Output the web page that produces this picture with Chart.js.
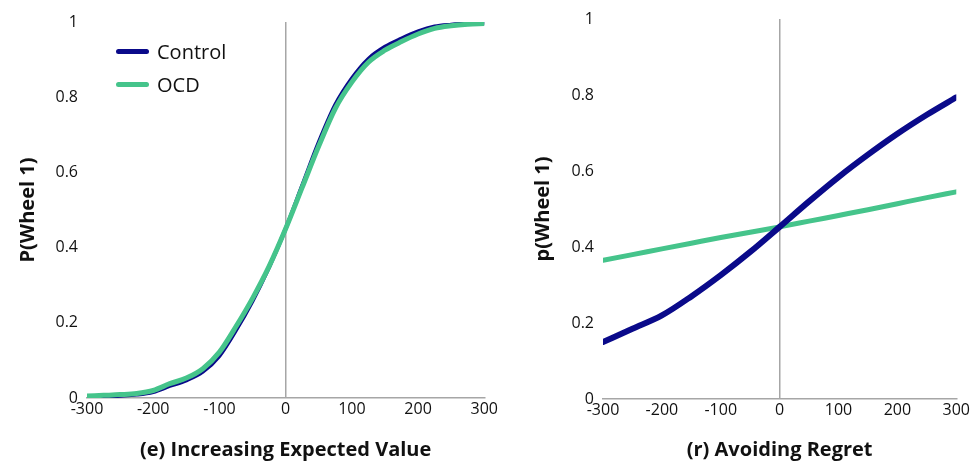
<!DOCTYPE html>
<html>
<head>
<meta charset="utf-8">
<script src="https://cdn.jsdelivr.net/npm/chart.js@4/dist/chart.umd.min.js"></script>
<style>
  body { margin: 0; background: #fff; overflow: hidden; }
  .panel { position: absolute; top: 0; height: 463px; }
  #legend { position: absolute; left: 116px; top: 35px; font-family: "Open Sans", sans-serif; font-size: 20px; color: #111; }
  #legend div { display: flex; align-items: center; height: 33px; }
  #legend span.sw { display: inline-block; width: 33px; height: 5px; border-radius: 3px; margin-right: 8px; }
</style>
</head>
<body>
<div class="panel" style="left:0;width:500px"><canvas id="chartE"></canvas></div>
<div class="panel" style="left:500px;width:472px"><canvas id="chartR"></canvas></div>
<div id="legend">
  <div><span class="sw" style="background:#0a0a8a"></span>Control</div>
  <div><span class="sw" style="background:#45c48b"></span>OCD</div>
</div>
<script>
// (e) Increasing Expected Value
const EV_X = [-300, -275, -250, -225, -200, -175, -150, -125, -100, -75, -50, -25, 0,
              25, 50, 75, 100, 125, 150, 175, 200, 225, 250, 275, 300];
const EV_CONTROL = [0.003, 0.004, 0.006, 0.009, 0.016, 0.032, 0.047, 0.07, 0.112, 0.18, 0.258, 0.348, 0.45,
                    0.565, 0.68, 0.78, 0.85, 0.902, 0.934, 0.956, 0.975, 0.988, 0.993, 0.996, 0.998];
const EV_OCD     = [0.005, 0.007, 0.009, 0.012, 0.02, 0.038, 0.053, 0.078, 0.122, 0.19, 0.265, 0.35, 0.45,
                    0.56, 0.67, 0.77, 0.84, 0.893, 0.925, 0.948, 0.968, 0.983, 0.99, 0.994, 0.996];

// (r) Avoiding Regret
const AR_X = [-300, -250, -200, -150, -100, -50, 0, 50, 100, 150, 200, 250, 300];
const AR_CONTROL = [0.15, 0.185, 0.22, 0.27, 0.326, 0.387, 0.453, 0.52, 0.584, 0.643, 0.698, 0.748, 0.794];
const AR_OCD     = [0.365, 0.38, 0.395, 0.41, 0.425, 0.439, 0.453, 0.468, 0.483, 0.498, 0.514, 0.53, 0.545];

const X_TICKS = [-300, -200, -100, 0, 100, 200, 300];
const Y_TICKS = [0, 0.2, 0.4, 0.6, 0.8, 1];
const Y_LABELS = ['0', '0.2', '0.4', '0.6', '0.8', '1'];

const COL_CONTROL = '#0a0a8a';
const COL_OCD = '#45c48b';
const FONT = '"Open Sans", sans-serif';

function pts(xs, ys) { return xs.map((x, i) => ({ x: x, y: ys[i] })); }

function makeChart(id, xs, ctrl, ocd, xTitle, yTitle, cfg) {
    const ds = (data, col, w) => ({
        data: pts(xs, data), borderColor: col, borderWidth: w, pointRadius: 0,
        cubicInterpolationMode: 'monotone', borderCapStyle: 'round', fill: false
    });
    const c = ds(ctrl, COL_CONTROL, cfg.cw), o = ds(ocd, COL_OCD, 5);
    // first dataset is painted last (on top)
    const sets = cfg.ocdTop ? [o, c] : [c, o];
    return new Chart(document.getElementById(id), {
        type: 'line',
        data: { datasets: sets },
        options: {
            responsive: true, maintainAspectRatio: false, animation: false,
            layout: { padding: { top: cfg.top, right: cfg.right, left: 0, bottom: 0 } },
            plugins: { legend: { display: false }, tooltip: { enabled: false } },
            scales: {
                x: {
                    type: 'linear', min: -300, max: 300,
                    afterBuildTicks: s => { s.ticks = X_TICKS.map(v => ({ value: v })); },
                    afterFit: s => { s.height = cfg.xh; },
                    ticks: { color: '#111', font: { family: FONT, size: 16 }, padding: 2, maxRotation: 0 },
                    grid: { drawTicks: false, color: c => c.tick && c.tick.value === 0 ? '#a6a6a6' : 'rgba(0,0,0,0)', lineWidth: 1.5 },
                    border: { display: true, color: '#a6a6a6', width: 1.5 },
                    title: { display: true, text: xTitle, color: '#111', font: { family: FONT, size: 20, weight: 'bold' }, padding: { top: 0, bottom: 1 } }
                },
                y: {
                    min: 0, max: 1,
                    afterBuildTicks: s => { s.ticks = Y_TICKS.map(v => ({ value: v })); },
                    ticks: { color: '#111', font: { family: FONT, size: 16 }, padding: 9,
                             callback: (v, i) => Y_LABELS[i] },
                    afterFit: s => { s.width = cfg.yw; },
                    grid: { display: false, drawTicks: false },
                    border: { display: false },
                    title: { display: true, text: yTitle, color: '#111', font: { family: FONT, size: 20, weight: 'bold' }, padding: { top: cfg.ytp, bottom: 0 } }
                }
            }
        }
    });
}

makeChart('chartE', EV_X, EV_CONTROL, EV_OCD, '(e) Increasing Expected Value', 'P(Wheel 1)',
    { top: 22, right: 14, xh: 65, yw: 87, ytp: 16, cw: 4, ocdTop: true });
makeChart('chartR', AR_X, AR_CONTROL, AR_OCD, '(r) Avoiding Regret', 'p(Wheel 1)',
    { top: 19, right: 15, xh: 64, yw: 103, ytp: 31, cw: 6, ocdTop: false });
</script>
</body>
</html>
